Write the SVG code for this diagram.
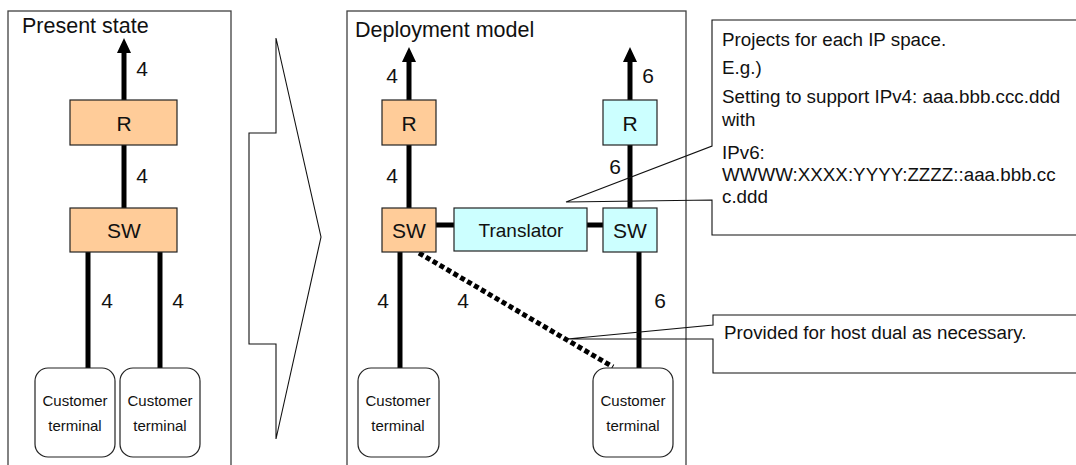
<svg xmlns="http://www.w3.org/2000/svg" width="1076" height="465" viewBox="0 0 1076 465">
<style>
.panel{fill:#fff;stroke:#404040;stroke-width:1.3}
.orange{fill:#FFCC99;stroke:#222;stroke-width:1.2}
.cyan{fill:#CCFFFF;stroke:#222;stroke-width:1.2}
.term{fill:#fff;stroke:#222;stroke-width:1.2}
.thin{fill:none;stroke:#111;stroke-width:1.1}
.link{stroke:#000;stroke-width:5;fill:none}
.dot{stroke:#000;stroke-width:5;fill:none;stroke-dasharray:5 3}
.head{fill:#000}
text{font-family:"Liberation Sans",Arial,sans-serif;fill:#111}
.title{font-size:21.5px}
.lbl{font-size:21px;text-anchor:middle}
.node{font-size:21px;text-anchor:middle}
.tr{font-size:19px;text-anchor:middle}
.ct{font-size:15px;text-anchor:middle}
.note{font-size:18.8px}
</style>
<defs>
<polygon id="ah" points="0,-9 7,6 -7,6"/>
</defs>

<g id="panel-present">
<rect class="panel" x="8" y="11" width="223" height="470"/>
<text class="title" x="22" y="33">Present state</text>
</g>
<g id="panel-deployment">
<rect class="panel" x="347" y="11" width="339" height="470"/>
<text class="title" x="355" y="37">Deployment model</text>
</g>

<g id="big-arrow">
<polygon class="thin" points="249,133 276,133 276,38 321,237 276,439 276,344 249,344"/>
</g>

<g id="connectors">
<line class="link" x1="124" y1="100" x2="124" y2="50"/>
<use href="#ah" class="head" x="124" y="47"/>
<line class="link" x1="124" y1="145" x2="124" y2="208"/>
<line class="link" x1="88" y1="252" x2="88" y2="368"/>
<line class="link" x1="160" y1="252" x2="160" y2="368"/>
<line class="link" x1="409" y1="100" x2="409" y2="59"/>
<use href="#ah" class="head" x="409" y="56"/>
<line class="link" x1="630" y1="100" x2="630" y2="59"/>
<use href="#ah" class="head" x="630" y="56"/>
<line class="link" x1="409" y1="145" x2="409" y2="208"/>
<line class="link" x1="630" y1="145" x2="630" y2="208"/>
<line class="link" x1="436" y1="225" x2="454" y2="225"/>
<line class="link" x1="587" y1="225" x2="604" y2="225"/>
<line class="link" x1="400" y1="252" x2="400" y2="368"/>
<line class="link" x1="639" y1="252" x2="639" y2="368"/>
<line class="dot" x1="419" y1="253" x2="613" y2="367"/>
<text class="lbl" x="142" y="76">4</text>
<text class="lbl" x="142" y="183">4</text>
<text class="lbl" x="107" y="308">4</text>
<text class="lbl" x="178" y="308">4</text>
<text class="lbl" x="392" y="83">4</text>
<text class="lbl" x="648" y="83">6</text>
<text class="lbl" x="392" y="183">4</text>
<text class="lbl" x="615" y="174">6</text>
<text class="lbl" x="383" y="308">4</text>
<text class="lbl" x="463" y="308">4</text>
<text class="lbl" x="660" y="308">6</text>
</g>

<g id="ps-r"><rect class="orange" x="70" y="100" width="107" height="45"/><text class="node" x="124" y="131">R</text></g>
<g id="ps-sw"><rect class="orange" x="70" y="208" width="107" height="44"/><text class="node" x="124" y="238">SW</text></g>
<g id="ps-ct1"><rect class="term" x="35" y="368" width="80" height="89" rx="13"/><text class="ct" x="75" y="406">Customer</text><text class="ct" x="75" y="431">terminal</text></g>
<g id="ps-ct2"><rect class="term" x="120" y="368" width="80" height="89" rx="13"/><text class="ct" x="160" y="406">Customer</text><text class="ct" x="160" y="431">terminal</text></g>

<g id="dm-r4"><rect class="orange" x="382" y="100" width="54" height="45"/><text class="node" x="409" y="131">R</text></g>
<g id="dm-sw4"><rect class="orange" x="382" y="208" width="54" height="44"/><text class="node" x="409" y="238">SW</text></g>
<g id="dm-r6"><rect class="cyan" x="603" y="100" width="54" height="45"/><text class="node" x="630" y="131">R</text></g>
<g id="dm-sw6"><rect class="cyan" x="603" y="208" width="54" height="44"/><text class="node" x="630" y="238">SW</text></g>
<g id="dm-translator"><rect class="cyan" x="454" y="208" width="133" height="43"/><text class="tr" x="521" y="237">Translator</text></g>
<g id="dm-ct1"><rect class="term" x="358" y="368" width="81" height="89" rx="13"/><text class="ct" x="398" y="406">Customer</text><text class="ct" x="398" y="431">terminal</text></g>
<g id="dm-ct2"><rect class="term" x="593" y="368" width="80" height="89" rx="13"/><text class="ct" x="633" y="406">Customer</text><text class="ct" x="633" y="431">terminal</text></g>

<g id="callout-ip">
<polygon class="thin" points="712,20 1080,20 1080,235 712,235 712,200 566,202 712,146"/>
<text class="note" x="722" y="46">Projects for each IP space.</text>
<text class="note" x="722" y="74">E.g.)</text>
<text class="note" x="722" y="103">Setting to support IPv4: aaa.bbb.ccc.ddd</text>
<text class="note" x="722" y="126">with</text>
<text class="note" x="722" y="159">IPv6:</text>
<text class="note" x="722" y="181">WWWW:XXXX:YYYY:ZZZZ::aaa.bbb.cc</text>
<text class="note" x="722" y="203">c.ddd</text>
</g>

<g id="callout-dual">
<polygon class="thin" points="713,315 1080,315 1080,373 713,373 713,339 567,339 713,325"/>
<text class="note" x="724" y="339">Provided for host dual as necessary.</text>
</g>
</svg>
